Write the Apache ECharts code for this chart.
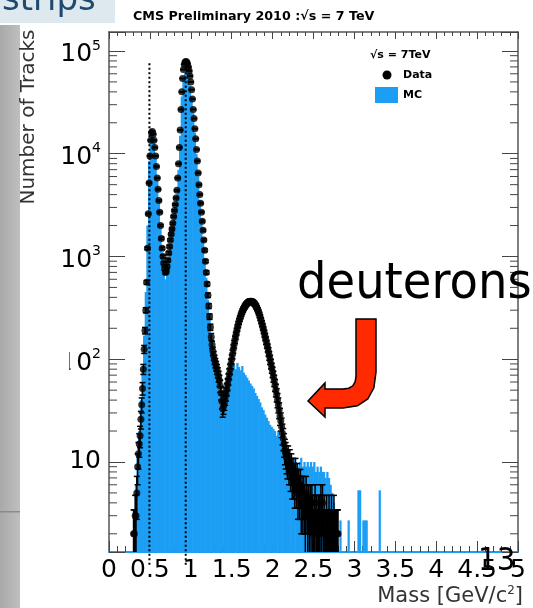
<!DOCTYPE html>
<html><head><meta charset="utf-8">
<script src="https://cdn.jsdelivr.net/npm/echarts@6/dist/echarts.min.js"></script>
<style>html,body{margin:0;padding:0;background:#fff}#c{width:533px;height:608px}</style>
</head><body><div id="c"></div>
<script>
// ---- data: bin centres start at firstBin with step binWidth ----
const dataBinWidth = 0.01;
const dataFirstBin = 0.30;
const dataCounts = [
2,2,3,3,5,9,12,15,18,26,
36,52,80,125,190,300,560,1200,2600,5200,
9500,13500,16000,16500,15500,13500,11500,9500,7500,5800,
4500,3500,2700,2000,1500,1200,1000,860,760,700,
720,800,920,1080,1250,1450,1650,1850,2100,2450,
2800,3200,3700,4400,5800,8000,11500,17000,27000,40000,
54000,66000,74000,78000,79000,78000,75000,70000,64000,57000,
50000,42000,34000,27000,22000,17500,14000,11000,8500,6500,
5000,4000,3300,2700,2200,1800,1450,1150,900,700,
540,420,330,260,205,165,138,120,108,99,
92,86,80,74,68,62,55,47,39,33,
35,38,42,46,51,57,64,72,80,90,
100,112,126,140,155,170,186,202,218,234,
250,264,278,292,305,316,326,336,344,351,
357,362,365,367,366,363,359,353,346,337,
326,314,300,285,270,254,238,222,207,192,
178,165,152,140,129,118,108,99,90,82,
75,68,62,56,50,45,40,36,32,28,
25,22,19,17,15,13,12,11,10,11,
9,10,8,9,7,8,7,6,8,6,
7,5,6,5,6,4,5,4,5,4,
3,5,4,3,4,3,4,3,4,3,
2,3,4,2,3,2,3,3,2,4,
3,4,2,3,2,2,3,2,2,3,
2,2,3,2,2,3,2,2,2,2,
2];
const mcBinWidth = 0.02;
const mcFirstBin = 0.31;
const mcCounts = [3,6,12,20,40,80,170,450,2000,8500,
17500,17000,13000,9000,5500,3400,1900,1100,750,600,
680,950,1300,1700,2300,3000,4000,7000,15000,36000,
53000,60000,60000,55000,46000,36000,25000,16000,10000,6000,
3500,2300,1500,950,620,380,250,165,118,95,
80,62,45,32,40,52,60,68,74,80,
82,88,80,92,84,78,86,74,70,66,
62,58,55,52,47,44,41,38,34,32,
29,27,25,23,22,21,20,18,20,17,
16,15,14,13,12,11,11,10,11,10,
9,10,11,9,10,9,10,9,10,9,
10,8,9,8,9,8,8,7,8,7,
6,5,4,3,null,null,2.7,null,null,null,
null,2.7,null,null,null,null,null,5.3,5.3,null,
2.7,2.7,2.7,null,null,null,null,null,null,null,
5.3,null];
const xTickLabels = ['0','0.5','1','1.5','2','2.5','3','3.5','4','4.5','5'];
const massLines = [0.494, 0.938];   // K and p masses
const massLineTop = 7.6e4;
const yMin = 1.33, yMax = 1.53e5;

const FONT = "'DejaVu Sans', 'Liberation Sans', sans-serif";
const MC_BLUE = '#1c9ef5';
const FRAME = '#555';

const r3 = v => Math.round(v * 1000) / 1000;
const dataPts = dataCounts.map((v, i) => [r3(dataFirstBin + i * dataBinWidth), v]);
const errPts = dataCounts.map((v, i) => [r3(dataFirstBin + i * dataBinWidth), v, v - Math.sqrt(v), v + Math.sqrt(v)]);
const mcPts = [];
mcCounts.forEach((v, i) => { if (v != null) mcPts.push([r3(mcFirstBin + i * mcBinWidth), v]); });
const minorY = [];
for (let d = 1; d <= 1e5; d *= 10) for (let k = 2; k <= 9; k++) { const t = k * d; if (t > yMin && t < yMax) minorY.push([0, t]); }

const arrowPoints = [[356,319],[376,319],[376,372],[373.9,387.8],[367.8,399],[357.4,405.8],[343,408],[325,408],[325,417],[308,401],[325,383],[325,389],[343,389],[348.7,388.2],[352.8,385.8],[355.2,381.7],[356,376]];

const chart = echarts.init(document.getElementById('c'), null, {renderer: 'canvas'});
const option = {
  animation: false,
  backgroundColor: '#fff',
  title: {
    text: 'CMS Preliminary 2010 :\u221As = 7 TeV',
    left: 133, top: 10, padding: 0,
    textStyle: {fontFamily: FONT, fontSize: 12.7, fontWeight: 'bold', color: '#000'}
  },
  grid: {left: 109, right: 15, top: 32, bottom: 56, containLabel: false},
  xAxis: [{
    type: 'value', min: 0, max: 5, interval: 0.5, position: 'bottom',
    axisLine: {show: true, onZero: false, lineStyle: {color: MC_BLUE, width: 2}},
    axisTick: {show: true, inside: true, length: 11, lineStyle: {color: '#444', width: 1}},
    minorTick: {show: true, splitNumber: 5, length: 6, lineStyle: {color: '#444', width: 1}},
    splitLine: {show: false}, minorSplitLine: {show: false},
    axisLabel: {show: true, margin: 6, fontSize: 25, fontFamily: FONT, color: '#000',
      formatter: v => xTickLabels[Math.round(v / 0.5)] || ''}
  }, {
    type: 'value', min: 0, max: 5, interval: 0.5, position: 'top',
    axisLine: {show: true, onZero: false, lineStyle: {color: FRAME, width: 1.5}},
    axisTick: {show: true, inside: true, length: 7, lineStyle: {color: '#444', width: 1}},
    minorTick: {show: true, splitNumber: 5, length: 4, lineStyle: {color: '#444', width: 1}},
    splitLine: {show: false}, axisLabel: {show: false}
  }],
  yAxis: [{
    type: 'log', logBase: 10, min: yMin, max: yMax, position: 'left',
    axisLine: {show: true, onZero: false, lineStyle: {color: FRAME, width: 1.5}},
    axisTick: {show: true, inside: true, length: 16, lineStyle: {color: '#444', width: 1}},
    splitLine: {show: false},
    axisLabel: {show: true, margin: 8, fontSize: 25, fontFamily: FONT, color: '#000',
      formatter: v => {
        const e = Math.log10(v), r = Math.round(e);
        if (Math.abs(e - r) > 1e-6 || r < 1) return '';
        return r === 1 ? '10' : '{b|10}{sup|' + r + '}';
      },
      rich: {
        b: {fontSize: 25, fontFamily: FONT, color: '#000', padding: [8, 0, 0, 0]},
        sup: {fontSize: 14, fontFamily: FONT, color: '#000', padding: [0, 0, 10, 0]}
      }
    }
  }, {
    type: 'log', logBase: 10, min: yMin, max: yMax, position: 'right',
    axisLine: {show: true, onZero: false, lineStyle: {color: FRAME, width: 1.5}},
    axisTick: {show: true, inside: true, length: 16, lineStyle: {color: '#444', width: 1}},
    splitLine: {show: false}, axisLabel: {show: false}
  }],
  series: [{
    name: 'minor ticks', type: 'custom', silent: true, z: 1,
    xAxisIndex: 0, yAxisIndex: 0, encode: {x: 0, y: 1},
    data: minorY,
    renderItem: (params, api) => {
      const cs = params.coordSys;
      const y = api.coord([0, api.value(1)])[1];
      return {type: 'group', children: [
        {type: 'line', shape: {x1: cs.x, y1: y, x2: cs.x + 8, y2: y}, style: {stroke: '#444', lineWidth: 1}},
        {type: 'line', shape: {x1: cs.x + cs.width - 8, y1: y, x2: cs.x + cs.width, y2: y}, style: {stroke: '#444', lineWidth: 1}}
      ]};
    }
  }, {
    name: 'MC', type: 'custom', z: 2, clip: true,
    xAxisIndex: 0, yAxisIndex: 0, encode: {x: 0, y: 1},
    data: mcPts,
    renderItem: (params, api) => {
      const cs = params.coordSys;
      const x = api.value(0), v = api.value(1);
      const pl = api.coord([x - mcBinWidth / 2, v]);
      const pr = api.coord([x + mcBinWidth / 2, v]);
      const bottom = cs.y + cs.height;
      return {type: 'rect', shape: {x: pl[0] - 0.3, y: pl[1], width: pr[0] - pl[0] + 0.6, height: bottom - pl[1]},
        style: {fill: MC_BLUE}};
    }
  }, {
    name: 'mass lines', type: 'custom', z: 3, clip: false, silent: true,
    xAxisIndex: 0, yAxisIndex: 0, encode: {x: 0, y: 1},
    data: massLines.map(m => [m, massLineTop]),
    renderItem: (params, api) => {
      const cs = params.coordSys;
      const p = api.coord([api.value(0), api.value(1)]);
      return {type: 'line', shape: {x1: p[0], y1: p[1], x2: p[0], y2: cs.y + cs.height + 14},
        style: {stroke: '#000', lineWidth: 2, lineDash: [2, 2.5]}};
    }
  }, {
    name: 'Data errors', type: 'custom', z: 4, clip: true, silent: true,
    xAxisIndex: 0, yAxisIndex: 0, encode: {x: 0, y: 1},
    data: errPts,
    renderItem: (params, api) => {
      const x = api.value(0);
      const lo = api.coord([x, Math.max(api.value(2), 0.05)]);
      const hi = api.coord([x, api.value(3)]);
      return {type: 'group', children: [
        {type: 'line', shape: {x1: lo[0], y1: lo[1], x2: hi[0], y2: hi[1]}, style: {stroke: '#000', lineWidth: 1.5}},
        {type: 'line', shape: {x1: hi[0] - 3, y1: hi[1], x2: hi[0] + 3, y2: hi[1]}, style: {stroke: '#000', lineWidth: 1.5}},
        {type: 'line', shape: {x1: lo[0] - 3, y1: lo[1], x2: lo[0] + 3, y2: lo[1]}, style: {stroke: '#000', lineWidth: 1.5}}
      ]};
    }
  }, {
    name: 'Data', type: 'scatter', z: 5,
    xAxisIndex: 0, yAxisIndex: 0,
    symbol: 'circle', symbolSize: 7,
    itemStyle: {color: '#000'},
    data: dataPts
  }],
  graphic: [
    // slide decorations
    {type: 'rect', z: 100, shape: {x: 0, y: 0, width: 115, height: 23}, style: {fill: '#dde9ef'}},
    {type: 'text', z: 101, x: 2, y: 1, style: {text: 'strips', fontFamily: FONT, fontSize: 34, fill: '#1f4a6e', align: 'left', verticalAlign: 'middle', textAlign: 'left', textVerticalAlign: 'middle'}},
    {type: 'rect', z: 100, shape: {x: 0, y: 25, width: 20, height: 583},
      style: {fill: new echarts.graphic.LinearGradient(0, 0, 1, 0, [{offset: 0, color: '#a9a9a9'}, {offset: 1, color: '#bfbfbf'}])}},
    {type: 'rect', z: 101, shape: {x: 0, y: 511, width: 20, height: 1.5}, style: {fill: '#8a8a8a'}},
    {type: 'rect', z: 100, shape: {x: 20, y: 300, width: 49.3, height: 117}, style: {fill: '#fff'}},
    {type: 'rect', z: 100, shape: {x: 70.4, y: 367, width: 5.4, height: 8}, style: {fill: '#fff'}},
    // axis titles
    {type: 'text', z: 102, x: 29, y: 117, rotation: Math.PI / 2,
      style: {text: 'Number of Tracks', fontFamily: FONT, fontSize: 20, fill: '#333', align: 'center', verticalAlign: 'middle', textAlign: 'center', textVerticalAlign: 'middle'}},
    {type: 'text', z: 102, x: 523, y: 597,
      style: {text: 'Mass [GeV/c{sup|2}]', fontFamily: FONT, fontSize: 21, fill: '#333', align: 'right', verticalAlign: 'middle', textAlign: 'right', textVerticalAlign: 'middle',
        rich: {sup: {fontFamily: FONT, fontSize: 12, fill: '#333', padding: [0, 0, 12, 0]}}}},
    // legend
    {type: 'text', z: 102, x: 370, y: 55, style: {text: '\u221As = 7TeV', fontFamily: FONT, fontSize: 11, fontWeight: 'bold', fill: '#000', align: 'left', verticalAlign: 'middle', textAlign: 'left', textVerticalAlign: 'middle'}},
    {type: 'circle', z: 102, shape: {cx: 387, cy: 75, r: 4.5}, style: {fill: '#000'}},
    {type: 'text', z: 102, x: 403, y: 75, style: {text: 'Data', fontFamily: FONT, fontSize: 11, fontWeight: 'bold', fill: '#000', align: 'left', verticalAlign: 'middle', textAlign: 'left', textVerticalAlign: 'middle'}},
    {type: 'rect', z: 102, shape: {x: 375, y: 87, width: 23, height: 16}, style: {fill: MC_BLUE}},
    {type: 'text', z: 102, x: 403, y: 95, style: {text: 'MC', fontFamily: FONT, fontSize: 11, fontWeight: 'bold', fill: '#000', align: 'left', verticalAlign: 'middle', textAlign: 'left', textVerticalAlign: 'middle'}},
    // annotation
    {type: 'text', z: 103, x: 297, y: 285, scaleX: 0.93,
      style: {text: 'deuterons', fontFamily: FONT, fontSize: 50, fill: '#000', align: 'left', verticalAlign: 'middle', textAlign: 'left', textVerticalAlign: 'middle'}},
    {type: 'polygon', z: 103, shape: {points: arrowPoints},
      style: {fill: '#ff2a00', stroke: '#000', lineWidth: 1.5}},
    {type: 'text', z: 103, x: 478, y: 562, scaleX: 0.92,
      style: {text: '13', fontFamily: FONT, fontSize: 32, fill: '#000', align: 'left', verticalAlign: 'middle', textAlign: 'left', textVerticalAlign: 'middle'}}
  ]
};
chart.setOption(option);
</script></body></html>
